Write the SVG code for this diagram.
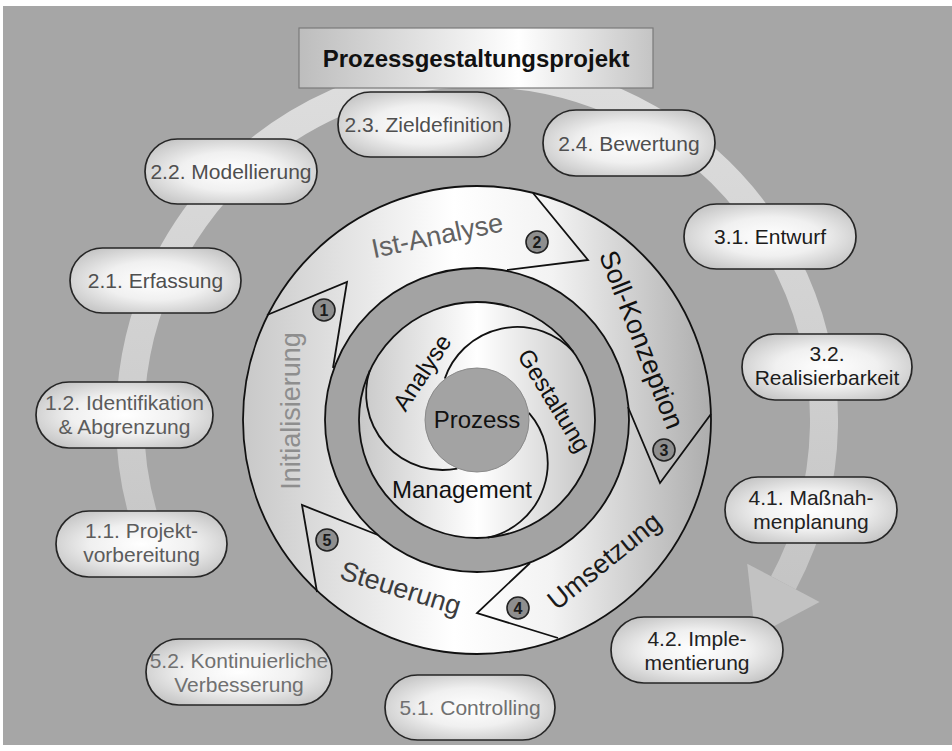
<svg xmlns="http://www.w3.org/2000/svg" width="952" height="751" viewBox="0 0 952 751">
  <defs>
    <style>
      .t { font-family: "Liberation Sans", Arial, sans-serif; }
      .node rect { fill: url(#nodeGrad); stroke: #262626; stroke-width: 1.7; }
      .node text { font-family: "Liberation Sans", Arial, sans-serif; font-size: 21px; text-anchor: middle; }
      .ph1 { fill: #5c5c5c; }
      .ph2 { fill: #4f4f4f; }
      .ph3 { fill: #1c1c1c; }
      .ph4 { fill: #222222; }
      .ph5 { fill: #707070; }
      .ring-line { fill: none; stroke: #111; stroke-width: 1.8; stroke-linejoin: miter; }
      .ring-lbl { font-family: "Liberation Sans", Arial, sans-serif; font-size: 27px; text-anchor: middle; }
      .core-lbl { font-family: "Liberation Sans", Arial, sans-serif; font-size: 24px; text-anchor: middle; fill: #111; }
      .num circle { fill: #8e8e8e; stroke: #222; stroke-width: 1.6; }
      .num text { font-family: "Liberation Sans", Arial, sans-serif; font-size: 16px; font-weight: bold; text-anchor: middle; fill: #1a1a1a; }
    </style>
    <radialGradient id="nodeGrad" cx="50%" cy="50%" r="60%">
      <stop offset="0" stop-color="#ffffff"/>
      <stop offset="0.5" stop-color="#f0f0f0"/>
      <stop offset="1" stop-color="#c4c4c4"/>
    </radialGradient>
    <linearGradient id="titleGrad" x1="0" y1="0" x2="1" y2="0">
      <stop offset="0" stop-color="#bdbdbd"/>
      <stop offset="0.62" stop-color="#ffffff"/>
      <stop offset="1" stop-color="#c4c4c4"/>
    </linearGradient>
    <linearGradient id="bandGrad" gradientUnits="userSpaceOnUse" x1="243" y1="0" x2="711" y2="0">
      <stop offset="0" stop-color="#c8c8c8"/>
      <stop offset="0.45" stop-color="#ffffff"/>
      <stop offset="0.66" stop-color="#f3f3f3"/>
      <stop offset="1" stop-color="#adadad"/>
    </linearGradient>
    <linearGradient id="discGrad" gradientUnits="userSpaceOnUse" x1="359" y1="0" x2="595" y2="0">
      <stop offset="0" stop-color="#c8c8c8"/>
      <stop offset="0.5" stop-color="#ffffff"/>
      <stop offset="1" stop-color="#c4c4c4"/>
    </linearGradient>
    <linearGradient id="trackGrad" gradientUnits="userSpaceOnUse" x1="0" y1="70" x2="0" y2="640">
      <stop offset="0" stop-color="#dedede"/>
      <stop offset="1" stop-color="#c2c2c2"/>
    </linearGradient>
  </defs>

  <!-- backdrop -->
  <rect x="0" y="0" width="952" height="751" fill="#ffffff"/>
  <rect x="3" y="6" width="949" height="739" fill="#a6a6a6"/>

  <!-- connectors: the large circular process arrow -->
  <g id="connectors">
    <path d="M 155.3 550 A 347 347 0 1 1 783.4 582.9" fill="none" stroke="url(#trackGrad)" stroke-width="28"/>
    <polygon points="747.2,563.7 819.6,602.1 755.3,635.9" fill="#c2c2c2"/>
  </g>

  <!-- title -->
  <g id="title">
    <rect x="299" y="28" width="354" height="60" fill="url(#titleGrad)" stroke="#7a7a7a" stroke-width="1.2"/>
    <text class="t" x="476" y="67" font-size="24" font-weight="bold" text-anchor="middle" fill="#111">Prozessgestaltungsprojekt</text>
  </g>

  <!-- phase cycle ring -->
  <g id="cycle">
    <path d="M 243 420 A 234 234 0 1 0 711 420 A 234 234 0 1 0 243 420 Z M 325 420 A 152 152 0 1 0 629 420 A 152 152 0 1 0 325 420 Z" fill="url(#bandGrad)" fill-rule="evenodd"/>
    <circle cx="477" cy="420" r="234" class="ring-line"/>
    <circle cx="477" cy="420" r="135" fill="none" stroke="#a3a3a3" stroke-width="33"/>
    <circle cx="477" cy="420" r="152" class="ring-line"/>
    <!-- chevron borders between phases -->
    <polyline class="ring-line" points="267,315 347,282 333,368"/>
    <polyline class="ring-line" points="533,193 588,260 507,270"/>
    <polyline class="ring-line" points="711,414 660,483 628,407"/>
    <polyline class="ring-line" points="558,638 477,613 530,563"/>
    <polyline class="ring-line" points="317,592 302,505 378,535"/>
  </g>

  <g id="phase-labels">
    <text class="ring-lbl" fill="#8e8e8e" transform="translate(300,411) rotate(-90)">Initialisierung</text>
    <text class="ring-lbl" fill="#626262" transform="translate(439,244.5) rotate(-11.8)">Ist-Analyse</text>
    <text class="ring-lbl" fill="#111111" transform="translate(633,343) rotate(68.7)">Soll-Konzeption</text>
    <text class="ring-lbl" fill="#1a1a1a" transform="translate(610,568) rotate(-38.9)">Umsetzung</text>
    <text class="ring-lbl" fill="#3c3c3c" transform="translate(398,597) rotate(17.2)">Steuerung</text>
  </g>

  <g id="phase-numbers">
    <g class="num" id="num1"><circle cx="324" cy="310" r="11"/><text x="324" y="315.8">1</text></g>
    <g class="num" id="num2"><circle cx="537" cy="242" r="11"/><text x="537" y="247.8">2</text></g>
    <g class="num" id="num3"><circle cx="664" cy="450" r="11"/><text x="664" y="455.8">3</text></g>
    <g class="num" id="num4"><circle cx="518" cy="608" r="11"/><text x="518" y="613.8">4</text></g>
    <g class="num" id="num5"><circle cx="327" cy="540" r="11"/><text x="327" y="545.8">5</text></g>
  </g>

  <!-- process management core -->
  <g id="core">
    <circle cx="477" cy="420" r="118" fill="url(#discGrad)" stroke="#111" stroke-width="1.8"/>
    <path d="M 447 377 A 76.5 76.5 0 0 1 577 357" fill="none" stroke="#111" stroke-width="1.8" transform="rotate(-3 477 420)"/>
    <path d="M 447 377 A 76.5 76.5 0 0 1 577 357" fill="none" stroke="#111" stroke-width="1.8" transform="rotate(117 477 420)"/>
    <path d="M 447 377 A 76.5 76.5 0 0 1 577 357" fill="none" stroke="#111" stroke-width="1.8" transform="rotate(237 477 420)"/>
    <circle cx="477" cy="420" r="52" fill="#a3a3a3" stroke="#8a8a8a" stroke-width="1"/>
    <text class="core-lbl" x="477" y="428" fill="#222">Prozess</text>
    <text class="core-lbl" transform="translate(429,377) rotate(-56.7)">Analyse</text>
    <text class="core-lbl" transform="translate(547,405) rotate(58.5)">Gestaltung</text>
    <text class="core-lbl" x="462" y="498">Management</text>
  </g>

  <!-- activity nodes -->
  <g id="n22" class="node"><rect x="145" y="139" width="172" height="65" rx="32.5"/><text class="ph2" x="231" y="179">2.2. Modellierung</text></g>
  <g id="n23" class="node"><rect x="338" y="92" width="172" height="65" rx="32.5"/><text class="ph2" x="424" y="132">2.3. Zieldefinition</text></g>
  <g id="n24" class="node"><rect x="543" y="110" width="172" height="66" rx="33"/><text class="ph2" x="629" y="150.5">2.4. Bewertung</text></g>
  <g id="n31" class="node"><rect x="684" y="204" width="172" height="65" rx="32.5"/><text class="ph3" x="770" y="244">3.1. Entwurf</text></g>
  <g id="n21" class="node"><rect x="70" y="248" width="171" height="65" rx="32.5"/><text class="ph2" x="155.5" y="288">2.1. Erfassung</text></g>
  <g id="n32" class="node"><rect x="742" y="334" width="170" height="66" rx="33"/><text class="ph3" x="827" y="361">3.2.</text><text class="ph3" x="827" y="385">Realisierbarkeit</text></g>
  <g id="n12" class="node"><rect x="36" y="382" width="177" height="66" rx="33"/><text class="ph1" x="124.5" y="410">1.2. Identifikation</text><text class="ph1" x="124.5" y="434">&amp; Abgrenzung</text></g>
  <g id="n41" class="node"><rect x="725" y="477" width="172" height="66" rx="33"/><text class="ph4" x="811" y="505">4.1. Maßnah-</text><text class="ph4" x="811" y="529">menplanung</text></g>
  <g id="n11" class="node"><rect x="56" y="511" width="171" height="66" rx="33"/><text class="ph1" x="141.5" y="538">1.1. Projekt-</text><text class="ph1" x="141.5" y="562">vorbereitung</text></g>
  <g id="n42" class="node"><rect x="611" y="617" width="172" height="66" rx="33"/><text class="ph4" x="697" y="646">4.2. Imple-</text><text class="ph4" x="697" y="670">mentierung</text></g>
  <g id="n52" class="node"><rect x="146" y="639" width="186" height="66" rx="33"/><text class="ph5" x="239" y="668">5.2. Kontinuierliche</text><text class="ph5" x="239" y="692">Verbesserung</text></g>
  <g id="n51" class="node"><rect x="385" y="675" width="170" height="65" rx="32.5"/><text class="ph5" x="470" y="715">5.1. Controlling</text></g>
</svg>
